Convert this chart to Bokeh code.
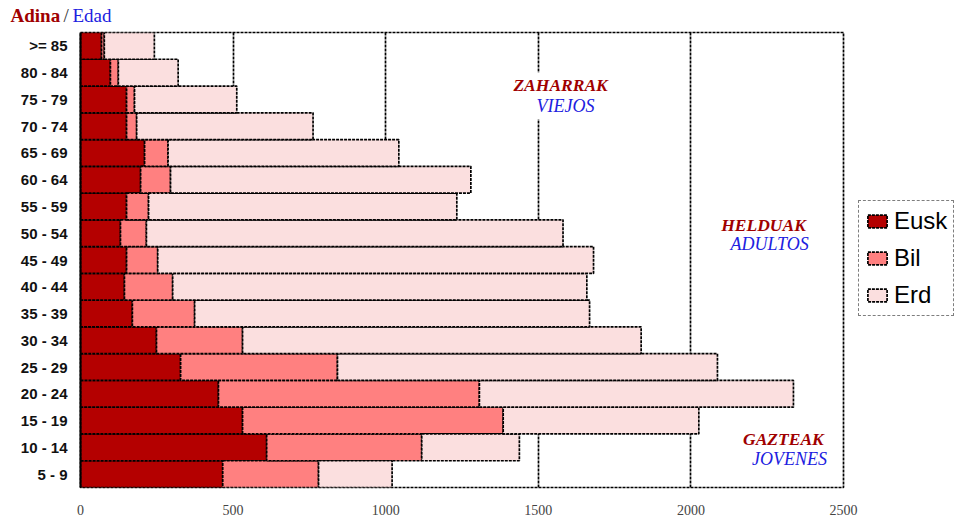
from bokeh.plotting import figure
from bokeh.layouts import column, row
from bokeh.models import (Range1d, FactorRange, FixedTicker, Legend, LegendItem,
                          Label, ColumnDataSource)
from bokeh.embed import file_html
from bokeh.resources import INLINE

# ---- data (bottom to top) ----
age_groups = ["5 - 9", "10 - 14", "15 - 19", "20 - 24", "25 - 29", "30 - 34",
              "35 - 39", "40 - 44", "45 - 49", "50 - 54", "55 - 59", "60 - 64",
              "65 - 69", "70 - 74", "75 - 79", "80 - 84", ">= 85"]
eusk = [466, 610, 531, 452, 328, 249, 170, 144, 151, 131, 151, 197, 210, 151, 151, 98, 69]
bil = [314, 508, 854, 855, 514, 282, 204, 158, 102, 85, 72, 98, 77, 33, 26, 26, 9]
erd = [241, 320, 641, 1029, 1245, 1306, 1294, 1357, 1428, 1365, 1010, 984, 756, 578, 335, 196, 164]
series = ["Eusk", "Bil", "Erd"]
colors = ["#b40000", "#ff8080", "#fbdfdf"]
x_ticks = [0, 500, 1000, 1500, 2000, 2500]
grid_ticks = [500, 1000, 1500, 2000]

# annotations: (text, x, y, color, bold)
notes = [
    ("ZAHARRAK", 1573, 15.02, "#a00000", True),
    ("VIEJOS", 1589, 14.24, "#2020e0", False),
    ("HELDUAK", 2238, 9.79, "#a00000", True),
    ("ADULTOS", 2258, 9.08, "#2020e0", False),
    ("GAZTEAK", 2303, 1.83, "#a00000", True),
    ("JOVENES", 2323, 1.08, "#2020e0", False),
]
title_parts = [("Adina", "#a00000", "bold"),
               ("/", "#333333", "normal"),
               ("Edad", "#2020e0", "normal")]

DASH = "3 1"
LW = 1.7

# ---- title strip ----
pt = figure(width=956, height=30, x_range=Range1d(0, 956), y_range=Range1d(0, 30),
            output_backend="svg", toolbar_location=None, min_border=0,
            x_axis_type=None, y_axis_type=None)
pt.outline_line_color = None
pt.grid.visible = False
for (text, col, style), x in zip(title_parts, [10, 63, 72]):
    pt.add_layout(Label(x=x, y=15, text=text, text_color=col,
                        text_font="Liberation Serif", text_font_style=style,
                        text_font_size="19px", text_baseline="middle"))

# ---- main chart ----
source = ColumnDataSource(dict(age=age_groups, Eusk=eusk, Bil=bil, Erd=erd))

p = figure(width=858, height=489,
           y_range=FactorRange(factors=age_groups, range_padding=0),
           x_range=Range1d(0, 2500),
           output_backend="svg", toolbar_location=None,
           min_border_left=80, min_border_top=2, min_border_bottom=32,
           min_border_right=15)
p.background_fill_color = "white"
p.border_fill_color = "white"

rs = p.hbar_stack(series, y="age", height=1.0, source=source,
                  fill_color=colors, line_color="black",
                  line_dash=DASH, line_width=LW)

p.xaxis.ticker = FixedTicker(ticks=x_ticks)
p.xaxis.axis_line_color = None
p.xaxis.major_tick_line_color = None
p.xaxis.minor_tick_line_color = None
p.xaxis.major_tick_out = 0
p.xaxis.major_tick_in = 0
p.xaxis.major_label_text_font = "Liberation Serif"
p.xaxis.major_label_text_font_size = "14px"
p.xaxis.major_label_text_color = "#444444"
p.xaxis.major_label_standoff = 17

p.yaxis.axis_line_color = "black"
p.yaxis.axis_line_width = 2
p.yaxis.major_tick_line_color = None
p.yaxis.minor_tick_line_color = None
p.yaxis.major_tick_out = 0
p.yaxis.major_tick_in = 0
p.yaxis.major_label_text_font = "Liberation Sans"
p.yaxis.major_label_text_font_style = "bold"
p.yaxis.major_label_text_font_size = "15px"
p.yaxis.major_label_text_color = "#111111"
p.yaxis.major_label_standoff = 13

p.ygrid.grid_line_color = None
p.xgrid.ticker = FixedTicker(ticks=grid_ticks)
p.xgrid.grid_line_color = "black"
p.xgrid.grid_line_dash = DASH
p.xgrid.grid_line_width = LW

p.outline_line_color = "black"
p.outline_line_dash = DASH
p.outline_line_width = LW

for text, x, y, col, bold in notes:
    p.add_layout(Label(x=x, y=y, text=text, text_color=col,
                       text_font="Liberation Serif",
                       text_font_style="bold italic" if bold else "italic",
                       text_font_size="17.5px" if bold else "18px",
                       text_align="center", text_baseline="middle",
                       background_fill_color="white", padding=3))

# ---- legend strip ----
pl = figure(width=98, height=489, x_range=Range1d(0, 1), y_range=Range1d(0, 1),
            output_backend="svg", toolbar_location=None, min_border=0,
            x_axis_type=None, y_axis_type=None)
pl.outline_line_color = None
pl.grid.visible = False
pl.background_fill_color = "white"
pl.border_fill_color = "white"
items = []
for s, c in zip(series, colors):
    r = pl.hbar(y=[0.5], left=[0], right=[1], height=1, fill_color=c,
                line_color="black", line_dash=DASH, line_width=LW, visible=False)
    items.append(LegendItem(label=s, renderers=[r]))
legend = Legend(items=items, location=(0, 171), margin=0, padding=6, spacing=9,
                label_text_font="Liberation Sans", label_text_font_size="24px",
                label_text_color="black",
                label_height=24, glyph_height=16, glyph_width=24, label_standoff=5,
                border_line_color="black", border_line_dash=DASH,
                border_line_width=LW, background_fill_color="white",
                inactive_fill_alpha=0.0)
pl.add_layout(legend)

layout = column(pt, row(p, pl, spacing=0), spacing=0)
open("out.html", "w").write(file_html(layout, INLINE))
